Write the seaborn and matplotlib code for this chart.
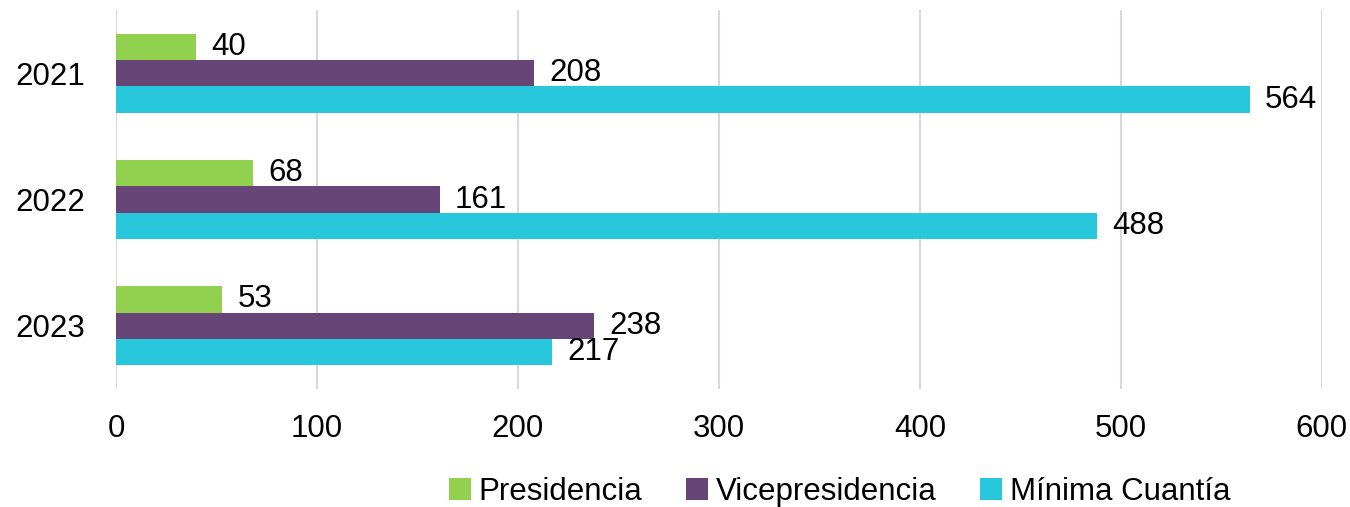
import matplotlib
matplotlib.use("Agg")
import matplotlib.pyplot as plt
import matplotlib.transforms as mtransforms
import seaborn as sns
import pandas as pd

years = ["2021", "2022", "2023"]
series_names = ["Presidencia", "Vicepresidencia", "Mínima Cuantía"]
presidencia = [40, 68, 53]
vicepresidencia = [208, 161, 238]
minima_cuantia = [564, 488, 217]
colors = ["#92D050", "#674577", "#28C7DC"]

df = pd.DataFrame({
    "year": years * 3,
    "serie": [s for s in series_names for _ in years],
    "value": presidencia + vicepresidencia + minima_cuantia,
})

sns.set_theme(style="white")
plt.rcParams["font.family"] = ["Liberation Sans", "DejaVu Sans"]

FS = 22.5
fig = plt.figure(figsize=(13.5, 5.07), dpi=100)
ax = fig.add_axes([0.0859, 0.233, 0.8933, 0.747])

sns.barplot(data=df, x="value", y="year", hue="serie", order=years,
            hue_order=series_names, palette=colors, orient="h",
            width=0.625, gap=0, saturation=1, ax=ax, legend=True,
            edgecolor="none", linewidth=0)

# value labels sit just right of each bar, nudged slightly downward
shift = mtransforms.ScaledTranslation(0, -2 / 72, fig.dpi_scale_trans)
for cont in ax.containers:
    texts = ax.bar_label(cont, labels=[f"{v:.0f}" for v in cont.datavalues],
                         padding=11, fontsize=FS, color="black")
    for t in texts:
        t.set_va("center")
        t.set_transform(t.get_transform() + shift)

ax.set_xlim(0, 600)
ax.set_xticks(range(0, 601, 100))
ax.xaxis.grid(True, color="#D9D9D9", linewidth=1.5)
ax.yaxis.grid(False)
ax.set_axisbelow(True)
for s in ax.spines.values():
    s.set_visible(False)
ax.tick_params(axis="x", length=0, pad=18, labelsize=FS, labelcolor="black")
ax.tick_params(axis="y", length=0, pad=22, labelsize=FS, labelcolor="black")
ax.set_xlabel("")
ax.set_ylabel("")

handles, labels = ax.get_legend_handles_labels()
ax.get_legend().remove()
fig.legend(handles, labels, loc="lower center", bbox_to_anchor=(0.622, -0.055),
           ncol=3, frameon=False, fontsize=FS, handlelength=0.7,
           handleheight=0.7, handletextpad=0.25, columnspacing=1.4,
           labelcolor="black")

fig.savefig("out.png", dpi=100)
